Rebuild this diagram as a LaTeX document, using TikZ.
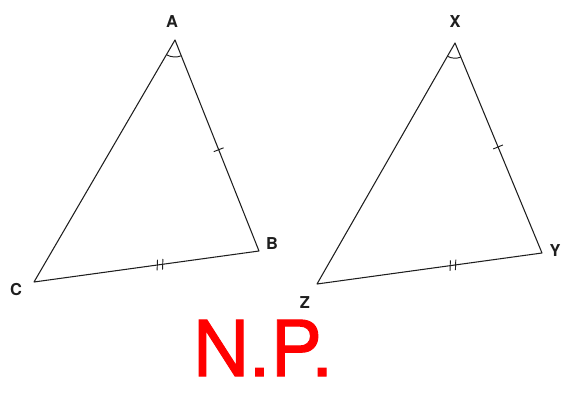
\documentclass[tikz,border=0pt]{standalone}
\usepackage{fontspec}
\setmainfont{TeX Gyre Heros}
\newfontfamily\handfont[FakeBold=1.2]{TeX Gyre Heros}
\usetikzlibrary{calc}
\definecolor{ink}{HTML}{1E1E1E}
\definecolor{pen}{HTML}{FF0000}

\begin{document}
\begin{tikzpicture}[
    x=0.03cm, y=0.03cm,
    side/.style={ink, line width=0.9pt, line join=round},
    tick/.style={ink, line width=0.8pt},
    vlabel/.style={font=\fontsize{14}{14}\selectfont\bfseries, text=ink, inner sep=0pt},
  ]

  % Frame
  \useasboundingbox (0,0) rectangle (562,-392);

  % === Triangle ABC ===
  \coordinate (A) at (175,-40);
  \coordinate (B) at (259,-251);
  \coordinate (C) at (34,-282);
  \draw[side] (A) -- (B) -- (C) -- cycle;
  \node[vlabel] (lA) at (172,-22) {A};
  \node[vlabel] (lB) at (272,-244) {B};
  \node[vlabel] (lC) at (16,-290) {C};

  % angle at A
  \draw[tick] ($(A)+(240:14.5pt)$) arc[start angle=240, end angle=292, radius=14.5pt];
  % single tick on AB
  \coordinate (mAB) at ($(A)!0.52!(B)$);
  \draw[tick] ($(mAB)!4.5pt!90:(B)$) -- ($(mAB)!4.5pt!-90:(B)$);
  % double tick on CB
  \foreach \t in {0.548,0.572} {
    \coordinate (mCB) at ($(C)!\t!(B)$);
    \draw[tick] ($(mCB)!4.5pt!80:(B)$) -- ($(mCB)!4.5pt!-100:(B)$);
  }

  % === Triangle XYZ ===
  \coordinate (X) at (455,-43);
  \coordinate (Y) at (542,-253);
  \coordinate (Z) at (317,-284);
  \draw[side] (X) -- (Y) -- (Z) -- cycle;
  \node[vlabel] (lX) at (455,-22) {X};
  \node[vlabel] (lY) at (555,-251) {Y};
  \node[vlabel] (lZ) at (305,-303) {Z};

  % angle at X
  \draw[tick] ($(X)+(240:13pt)$) arc[start angle=240, end angle=292, radius=13pt];
  % single tick on XY
  \coordinate (mXY) at ($(X)!0.495!(Y)$);
  \draw[tick] ($(mXY)!4.5pt!90:(Y)$) -- ($(mXY)!4.5pt!-90:(Y)$);
  % double tick on ZY
  \foreach \t in {0.592,0.616} {
    \coordinate (mZY) at ($(Z)!\t!(Y)$);
    \draw[tick] ($(mZY)!4.5pt!80:(Y)$) -- ($(mZY)!4.5pt!-100:(Y)$);
  }

  % === handwritten note ===
  \node[font=\handfont\fontsize{66}{66}\selectfont, text=pen, inner sep=0pt] (np) at (263,-348) {N.P.};

\end{tikzpicture}
\end{document}
